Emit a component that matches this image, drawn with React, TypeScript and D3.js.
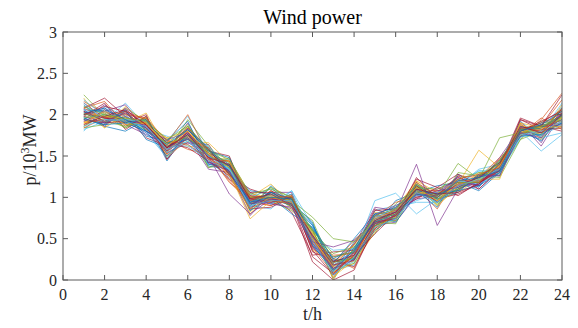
import React from "react";
import * as d3 from "d3";

// Hours of the day (x positions of every scenario)
const hours: number[] = d3.range(1, 25);

// Wind power scenarios, in 10^3 MW, one row per scenario (24 hourly values)
const scenarios: number[][] = [
  [2.12, 1.90, 2.05, 1.80, 1.66, 1.70, 1.58, 1.28, 1.02, 0.92, 1.04, 0.42, 0.22, 0.25, 0.78, 0.74, 1.15, 0.94, 1.22, 1.14, 1.42, 1.74, 1.88, 1.90],
  [1.88, 2.06, 1.86, 1.96, 1.52, 1.84, 1.42, 1.44, 0.88, 1.08, 0.88, 0.60, 0.08, 0.38, 0.62, 0.88, 1.00, 1.08, 1.08, 1.28, 1.28, 1.88, 1.72, 2.04],
  [2.04, 1.84, 2.10, 1.90, 1.72, 1.62, 1.60, 1.32, 0.80, 1.04, 0.98, 0.36, 0.26, 0.22, 0.82, 0.78, 1.18, 0.96, 1.06, 1.22, 1.46, 1.76, 1.82, 1.84],
  [1.94, 2.12, 1.92, 1.78, 1.56, 1.90, 1.46, 1.22, 1.06, 0.94, 0.86, 0.56, 0.02, 0.44, 0.66, 0.70, 1.02, 1.10, 1.20, 1.10, 1.32, 1.92, 1.66, 2.08],
  [2.24, 1.98, 1.84, 1.98, 1.48, 1.76, 1.36, 1.48, 0.98, 1.12, 1.00, 0.48, 0.18, 0.30, 0.56, 0.92, 1.12, 0.90, 1.30, 1.26, 1.24, 1.70, 1.92, 1.96],
  [1.82, 1.92, 2.14, 1.86, 1.68, 1.98, 1.54, 1.38, 0.90, 0.86, 1.08, 0.66, 0.12, 0.18, 0.74, 0.84, 0.96, 1.04, 1.14, 1.34, 1.40, 1.84, 1.78, 2.14],
  [2.08, 2.20, 1.98, 1.72, 1.62, 1.66, 1.64, 1.26, 1.10, 1.02, 0.82, 0.30, 0.34, 0.36, 0.86, 0.76, 1.24, 0.98, 1.04, 1.16, 1.38, 1.96, 1.86, 1.80],
  [1.96, 1.86, 1.80, 1.94, 1.44, 1.80, 1.40, 1.40, 0.84, 1.14, 0.94, 0.70, 0.06, 0.26, 0.64, 0.96, 1.06, 1.14, 1.18, 1.08, 1.30, 1.78, 1.70, 1.98],
  [2.16, 2.02, 2.02, 1.84, 1.70, 1.58, 1.52, 1.18, 0.96, 0.90, 1.02, 0.44, 0.20, 0.48, 0.72, 0.72, 1.10, 0.86, 1.26, 1.24, 1.48, 1.72, 1.94, 2.26],
  [1.90, 1.94, 1.90, 2.02, 1.58, 1.86, 1.48, 1.46, 1.04, 1.00, 0.90, 0.54, 0.10, 0.20, 0.58, 0.86, 1.20, 1.06, 1.10, 1.30, 1.26, 1.86, 1.84, 1.86],
  [2.00, 2.08, 1.88, 1.76, 1.64, 1.72, 1.34, 1.30, 0.78, 1.06, 1.06, 0.40, 0.28, 0.34, 0.80, 0.82, 0.98, 1.02, 1.24, 1.14, 1.36, 1.90, 1.62, 2.02],
  [1.84, 1.88, 2.08, 1.92, 1.54, 1.94, 1.62, 1.36, 0.94, 0.96, 0.84, 0.62, 0.00, 0.40, 0.70, 0.68, 1.14, 0.92, 1.12, 1.20, 1.44, 1.80, 1.90, 1.92],
  [2.10, 1.96, 1.96, 1.82, 1.74, 1.64, 1.44, 1.24, 1.00, 1.10, 0.96, 0.50, 0.16, 0.28, 0.84, 0.90, 1.04, 1.00, 1.16, 1.32, 1.34, 1.74, 1.76, 2.10],
  [1.98, 2.14, 1.82, 1.98, 1.46, 1.82, 1.56, 1.50, 0.86, 0.88, 1.00, 0.34, 0.24, 0.16, 0.62, 0.80, 1.22, 1.12, 1.02, 1.18, 1.30, 1.94, 1.86, 1.88],
  [2.06, 1.90, 2.06, 1.70, 1.60, 1.76, 1.38, 1.34, 1.08, 1.04, 0.92, 0.68, 0.10, 0.46, 0.68, 0.74, 1.08, 0.88, 1.28, 1.12, 1.42, 1.82, 1.68, 2.00],
  [1.86, 2.00, 1.94, 1.90, 1.66, 2.00, 1.50, 1.20, 0.92, 0.94, 1.04, 0.46, 0.30, 0.32, 0.76, 0.94, 1.00, 1.06, 1.08, 1.26, 1.38, 1.76, 1.96, 1.82],
  [2.20, 1.84, 2.00, 1.88, 1.50, 1.68, 1.66, 1.42, 0.82, 1.08, 0.86, 0.58, 0.04, 0.24, 0.60, 0.78, 1.16, 0.96, 1.20, 1.22, 1.22, 1.88, 1.74, 2.12],
  [1.92, 2.04, 2.12, 1.80, 1.70, 1.78, 1.42, 1.38, 1.02, 0.98, 0.98, 0.38, 0.22, 0.42, 0.88, 0.84, 1.06, 1.04, 1.14, 1.16, 1.48, 1.84, 1.84, 1.94],
  [2.02, 1.92, 1.86, 1.94, 1.56, 1.86, 1.58, 1.28, 0.90, 1.12, 0.90, 0.72, 0.14, 0.20, 0.66, 0.72, 1.12, 1.10, 1.22, 1.30, 1.32, 1.70, 1.80, 2.06],
  [1.80, 2.10, 1.98, 1.84, 1.62, 1.62, 1.46, 1.46, 0.98, 0.92, 1.08, 0.52, 0.36, 0.38, 0.74, 0.88, 0.94, 0.94, 1.10, 1.20, 1.40, 1.92, 1.72, 1.78],
  [2.14, 1.96, 1.90, 2.00, 1.46, 1.74, 1.52, 1.32, 1.06, 1.06, 0.94, 0.28, 0.08, 0.30, 0.56, 0.80, 1.18, 1.02, 1.26, 1.10, 1.34, 1.80, 1.92, 2.04],
  [1.96, 1.88, 2.04, 1.74, 1.68, 1.92, 1.40, 1.36, 0.84, 1.00, 0.80, 0.64, 0.20, 0.50, 0.80, 0.70, 1.04, 0.98, 1.06, 1.28, 1.26, 1.86, 1.78, 1.90],
  [2.08, 2.16, 1.88, 1.92, 1.58, 1.70, 1.60, 1.22, 0.94, 0.90, 1.02, 0.44, 0.26, 0.14, 0.70, 0.86, 1.10, 1.08, 1.18, 1.18, 1.46, 1.74, 1.86, 2.18],
  [1.90, 1.94, 1.96, 1.86, 1.72, 1.80, 1.48, 1.44, 1.00, 1.16, 0.92, 0.56, 0.02, 0.36, 0.64, 0.76, 1.20, 0.90, 1.12, 1.24, 1.30, 1.90, 1.70, 1.98],
  [2.04, 1.86, 2.08, 1.82, 1.54, 1.66, 1.54, 1.30, 0.88, 0.96, 1.00, 0.40, 0.18, 0.28, 0.78, 0.90, 1.02, 1.06, 1.24, 1.14, 1.38, 1.78, 1.88, 1.86],
  [1.86, 2.02, 1.84, 1.96, 1.64, 1.88, 1.36, 1.40, 0.96, 1.04, 0.88, 0.60, 0.32, 0.40, 0.68, 0.82, 1.14, 1.00, 1.08, 1.26, 1.42, 1.84, 1.76, 2.08],
  [2.18, 1.98, 2.00, 1.78, 1.48, 1.74, 1.62, 1.34, 1.04, 0.94, 1.04, 0.48, 0.12, 0.22, 0.72, 0.74, 1.06, 0.94, 1.16, 1.32, 1.28, 1.72, 1.90, 1.94],
  [1.94, 1.90, 1.92, 1.90, 1.66, 1.60, 1.44, 1.26, 0.86, 1.08, 0.96, 0.36, 0.06, 0.34, 0.84, 0.86, 0.98, 1.12, 1.28, 1.16, 1.36, 1.94, 1.82, 1.84],
  [2.00, 2.06, 1.94, 1.84, 1.60, 1.82, 1.56, 1.48, 0.92, 0.98, 0.90, 0.66, 0.24, 0.26, 0.60, 0.78, 1.16, 0.98, 1.10, 1.22, 1.44, 1.82, 1.74, 2.00],
  [1.84, 1.96, 2.04, 1.94, 1.52, 1.72, 1.50, 1.38, 1.00, 1.02, 1.00, 0.50, 0.16, 0.44, 0.76, 0.84, 1.08, 1.04, 1.20, 1.20, 1.32, 1.76, 1.88, 2.02],
  [1.98, 1.94, 1.96, 1.88, 1.56, 1.76, 1.48, 1.30, 0.74, 0.96, 0.94, 0.50, 0.14, 0.30, 0.72, 0.80, 1.08, 1.00, 1.16, 1.57, 1.36, 1.80, 1.80, 1.96],
  [2.02, 1.96, 1.94, 1.86, 1.62, 1.74, 1.50, 1.04, 0.80, 0.98, 0.96, 0.46, 0.40, 0.48, 0.70, 0.82, 1.40, 0.66, 1.10, 1.20, 1.34, 1.82, 1.82, 1.94],
  [2.00, 1.98, 1.94, 1.90, 1.60, 1.76, 1.52, 1.36, 0.96, 1.00, 0.96, 0.76, 0.50, 0.46, 0.74, 0.80, 1.06, 1.02, 1.41, 1.22, 1.72, 1.78, 1.84, 1.98],
  [1.96, 2.00, 1.96, 1.86, 1.58, 1.72, 1.50, 1.34, 0.94, 1.02, 0.94, 0.52, 0.18, 0.30, 0.96, 1.05, 0.80, 0.98, 1.14, 1.20, 1.36, 1.80, 1.56, 1.76],
  [2.04, 1.96, 1.92, 1.88, 1.60, 1.78, 1.54, 1.38, 0.98, 1.00, 0.92, 0.22, 0.00, 0.12, 0.66, 0.78, 1.10, 1.00, 1.16, 1.18, 1.32, 1.84, 1.86, 2.24],
  [2.06, 2.04, 1.90, 1.94, 1.62, 1.70, 1.56, 1.40, 0.90, 1.06, 0.98, 0.54, 0.20, 0.34, 0.72, 0.84, 1.10, 1.04, 1.12, 1.24, 1.36, 1.82, 1.84, 2.00],
  [1.92, 1.92, 2.02, 1.84, 1.56, 1.80, 1.46, 1.30, 1.00, 0.96, 0.92, 0.46, 0.12, 0.28, 0.68, 0.78, 1.06, 0.96, 1.18, 1.18, 1.34, 1.78, 1.78, 1.92],
  [2.02, 1.98, 1.96, 1.90, 1.64, 1.74, 1.52, 1.36, 0.96, 1.02, 0.96, 0.50, 0.16, 0.30, 0.70, 0.80, 1.08, 1.00, 1.14, 1.22, 1.38, 1.80, 1.82, 1.96],
  [1.98, 1.90, 1.98, 1.86, 1.58, 1.78, 1.48, 1.32, 0.92, 0.98, 0.94, 0.48, 0.14, 0.32, 0.74, 0.82, 1.04, 1.02, 1.16, 1.20, 1.32, 1.84, 1.80, 2.02],
  [2.10, 2.00, 1.92, 1.82, 1.66, 1.72, 1.54, 1.42, 1.00, 1.00, 0.98, 0.58, 0.22, 0.26, 0.66, 0.76, 1.12, 0.98, 1.10, 1.26, 1.40, 1.76, 1.86, 1.94],
  [1.86, 1.94, 1.94, 1.92, 1.54, 1.68, 1.44, 1.34, 0.88, 1.04, 0.90, 0.44, 0.10, 0.36, 0.76, 0.86, 1.02, 1.06, 1.20, 1.16, 1.30, 1.86, 1.74, 1.88],
  [2.00, 2.10, 2.04, 1.88, 1.60, 1.84, 1.58, 1.28, 0.98, 0.94, 1.00, 0.52, 0.18, 0.24, 0.70, 0.74, 1.14, 0.94, 1.14, 1.24, 1.42, 1.80, 1.90, 2.06],
  [1.94, 1.88, 1.90, 1.80, 1.50, 1.76, 1.50, 1.38, 0.94, 1.06, 0.92, 0.62, 0.26, 0.38, 0.80, 0.88, 1.08, 1.04, 1.08, 1.14, 1.30, 1.74, 1.76, 1.90],
  [2.08, 1.96, 2.00, 1.96, 1.68, 1.64, 1.46, 1.44, 1.02, 0.98, 1.02, 0.40, 0.08, 0.30, 0.62, 0.80, 1.04, 1.00, 1.22, 1.28, 1.36, 1.84, 1.80, 2.08],
  [1.90, 2.04, 1.88, 1.90, 1.62, 1.80, 1.54, 1.26, 0.86, 1.00, 0.94, 0.56, 0.20, 0.42, 0.74, 0.84, 1.12, 0.96, 1.16, 1.20, 1.38, 1.90, 1.84, 1.86],
  [2.04, 1.92, 2.02, 1.84, 1.56, 1.72, 1.42, 1.32, 0.96, 0.92, 0.88, 0.44, 0.14, 0.24, 0.68, 0.78, 1.00, 1.08, 1.12, 1.26, 1.26, 1.78, 1.72, 2.02],
  [1.96, 2.00, 1.96, 1.92, 1.70, 1.86, 1.56, 1.46, 1.04, 1.10, 1.00, 0.60, 0.28, 0.34, 0.78, 0.86, 1.16, 1.02, 1.18, 1.18, 1.44, 1.82, 1.86, 1.98],
  [2.14, 1.94, 1.92, 1.86, 1.58, 1.68, 1.50, 1.34, 0.90, 0.96, 0.96, 0.48, 0.06, 0.28, 0.64, 0.74, 1.06, 0.94, 1.14, 1.22, 1.34, 1.76, 1.80, 1.92],
  [1.88, 1.98, 2.06, 1.88, 1.60, 1.76, 1.48, 1.40, 0.98, 1.04, 0.90, 0.54, 0.22, 0.30, 0.72, 0.82, 1.10, 1.04, 1.06, 1.16, 1.40, 1.86, 1.78, 2.00],
  [2.02, 2.08, 1.94, 1.80, 1.64, 1.82, 1.60, 1.30, 0.94, 1.00, 0.98, 0.42, 0.12, 0.36, 0.70, 0.80, 1.04, 1.00, 1.20, 1.24, 1.32, 1.80, 1.88, 2.04],
];

// Axis ticks
const xTicks: number[] = [0, 2, 4, 6, 8, 10, 12, 14, 16, 18, 20, 22, 24];
const yTicks: number[] = [0, 0.5, 1, 1.5, 2, 2.5, 3];

// Line colour order (MATLAB "lines" palette)
const palette: string[] = ["#0072BD", "#D95319", "#EDB120", "#7E2F8E", "#77AC30", "#4DBEEE", "#A2142F"];

const W = 578;
const H = 328;
const plot = { left: 63, right: 562, top: 32, bottom: 280 };
const font = "'Liberation Serif', 'Times New Roman', serif";
const axisColor = "#5a5a5a";
const textColor = "#262626";

export default function App() {
  const x = d3.scaleLinear().domain([0, 24]).range([plot.left, plot.right]);
  const y = d3.scaleLinear().domain([0, 3]).range([plot.bottom, plot.top]);
  const line = d3
    .line<number>()
    .x((_, i) => x(hours[i]))
    .y((v) => y(v));
  const tickLen = 5;

  return (
    <svg
      width={W}
      height={H}
      style={{ position: "absolute", left: 0, top: 0, background: "#fff" }}
      fontFamily={font}
    >
      <rect x={0} y={0} width={W} height={H} fill="#fff" />
      <defs>
        <clipPath id="plotClip">
          <rect x={plot.left} y={plot.top} width={plot.right - plot.left} height={plot.bottom - plot.top} />
        </clipPath>
      </defs>

      <g clipPath="url(#plotClip)">
        {scenarios.map((s, i) => (
          <path key={i} d={line(s) ?? ""} fill="none" stroke={palette[i % palette.length]} strokeWidth={0.75} strokeOpacity={0.9} />
        ))}
      </g>

      {/* box */}
      <rect
        x={plot.left}
        y={plot.top}
        width={plot.right - plot.left}
        height={plot.bottom - plot.top}
        fill="none"
        stroke={axisColor}
        strokeWidth={1}
      />

      {/* x ticks, bottom and top, pointing inward */}
      {xTicks.map((t) => (
        <g key={"x" + t}>
          <line x1={x(t)} x2={x(t)} y1={plot.bottom} y2={plot.bottom - tickLen} stroke={axisColor} />
          <line x1={x(t)} x2={x(t)} y1={plot.top} y2={plot.top + tickLen} stroke={axisColor} />
          <text x={x(t)} y={300} textAnchor="middle" fontSize={16} fill={textColor}>
            {t}
          </text>
        </g>
      ))}

      {/* y ticks, left and right, pointing inward */}
      {yTicks.map((t) => (
        <g key={"y" + t}>
          <line x1={plot.left} x2={plot.left + tickLen} y1={y(t)} y2={y(t)} stroke={axisColor} />
          <line x1={plot.right} x2={plot.right - tickLen} y1={y(t)} y2={y(t)} stroke={axisColor} />
          <text x={plot.left - 6} y={y(t)} dy="0.35em" textAnchor="end" fontSize={16} fill={textColor}>
            {t}
          </text>
        </g>
      ))}

      <text x={(plot.left + plot.right) / 2} y={24} textAnchor="middle" fontSize={20} fill="#000">
        Wind power
      </text>

      <text x={(plot.left + plot.right) / 2} y={320} textAnchor="middle" fontSize={18} fill={textColor}>
        t/h
      </text>

      <text
        transform={`translate(36, 150) rotate(-90)`}
        textAnchor="middle"
        fontSize={18}
        fill={textColor}
      >
        p/10
        <tspan dy={-7} fontSize={12}>3</tspan>
        <tspan dy={7}>MW</tspan>
      </text>
    </svg>
  );
}
